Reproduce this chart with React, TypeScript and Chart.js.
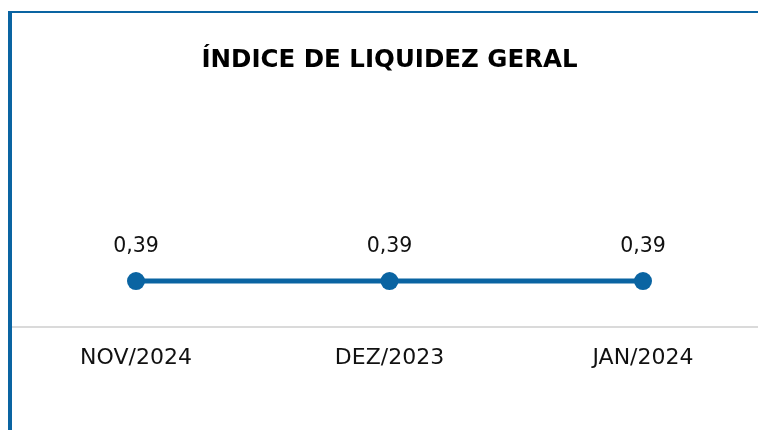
import React, { useEffect, useRef } from "react";
import { Chart, registerables } from "chart.js";

Chart.register(...registerables);

const categories = ["NOV/2024", "DEZ/2023", "JAN/2024"];
const values = [0.39, 0.39, 0.39];
const valueLabels = ["0,39", "0,39", "0,39"];
const title = "ÍNDICE DE LIQUIDEZ GERAL";

const BLUE = "#0A64A2";
const FONT = "'DejaVu Sans', sans-serif";

export default function App() {
  const ref = useRef<HTMLCanvasElement | null>(null);

  useEffect(() => {
    const canvas = ref.current;
    if (!canvas) return;

    const valueLabelPlugin = {
      id: "valueLabels",
      afterDatasetsDraw(chart: any) {
        const ctx = chart.ctx;
        const meta = chart.getDatasetMeta(0);
        ctx.save();
        ctx.font = `20.5px ${FONT}`;
        ctx.fillStyle = "#111";
        ctx.textAlign = "center";
        ctx.textBaseline = "middle";
        meta.data.forEach((pt: any, i: number) => {
          ctx.fillText(valueLabels[i], pt.x, pt.y - 34);
        });
        ctx.restore();
      },
    };

    const axisLinePlugin = {
      id: "axisLine",
      beforeDatasetsDraw(chart: any) {
        const ctx = chart.ctx;
        const y = chart.chartArea.bottom;
        ctx.save();
        ctx.strokeStyle = "#DADADA";
        ctx.lineWidth = 2;
        ctx.beginPath();
        ctx.moveTo(0, y);
        ctx.lineTo(chart.width, y);
        ctx.stroke();
        ctx.restore();
      },
    };

    const chart = new Chart(canvas, {
      type: "line",
      data: {
        labels: categories,
        datasets: [
          {
            data: values,
            borderColor: BLUE,
            backgroundColor: BLUE,
            borderWidth: 5,
            pointRadius: 9,
            pointHoverRadius: 9,
            pointBackgroundColor: BLUE,
            pointBorderWidth: 0,
            fill: false,
            tension: 0,
          },
        ],
      },
      options: {
        responsive: false,
        animation: false,
        layout: { padding: { left: 124, right: 124, top: 0, bottom: 0 } },
        plugins: {
          legend: { display: false },
          tooltip: { enabled: false },
          title: {
            display: true,
            text: title,
            color: "#000",
            font: { family: FONT, size: 24.5, weight: "bold" },
            padding: { top: 33, bottom: 16 },
          },
        },
        scales: {
          x: {
            offset: false,
            grid: { display: false, drawTicks: false },
            border: { display: false },
            ticks: {
              color: "#111",
              font: { family: FONT, size: 22 },
              padding: 18,
              maxRotation: 0,
              autoSkip: false,
            },
            afterFit: (s: any) => {
              s.height = 103;
            },
          },
          y: {
            display: false,
            min: 0,
            max: 2,
          },
        },
      },
      plugins: [valueLabelPlugin, axisLinePlugin],
    });

    return () => chart.destroy();
  }, []);

  return (
    <div
      style={{
        position: "fixed",
        left: 0,
        top: 0,
        width: 758,
        height: 430,
        overflow: "hidden",
        background: "#fff",
      }}
    >
      <canvas
        ref={ref}
        width={755}
        height={417}
        style={{ position: "absolute", left: 12, top: 13, width: 755, height: 417 }}
      />
      <div style={{ position: "absolute", left: 8, top: 11, width: 750, height: 2, background: BLUE }} />
      <div style={{ position: "absolute", left: 8, top: 11, width: 4, height: 419, background: BLUE }} />
    </div>
  );
}
